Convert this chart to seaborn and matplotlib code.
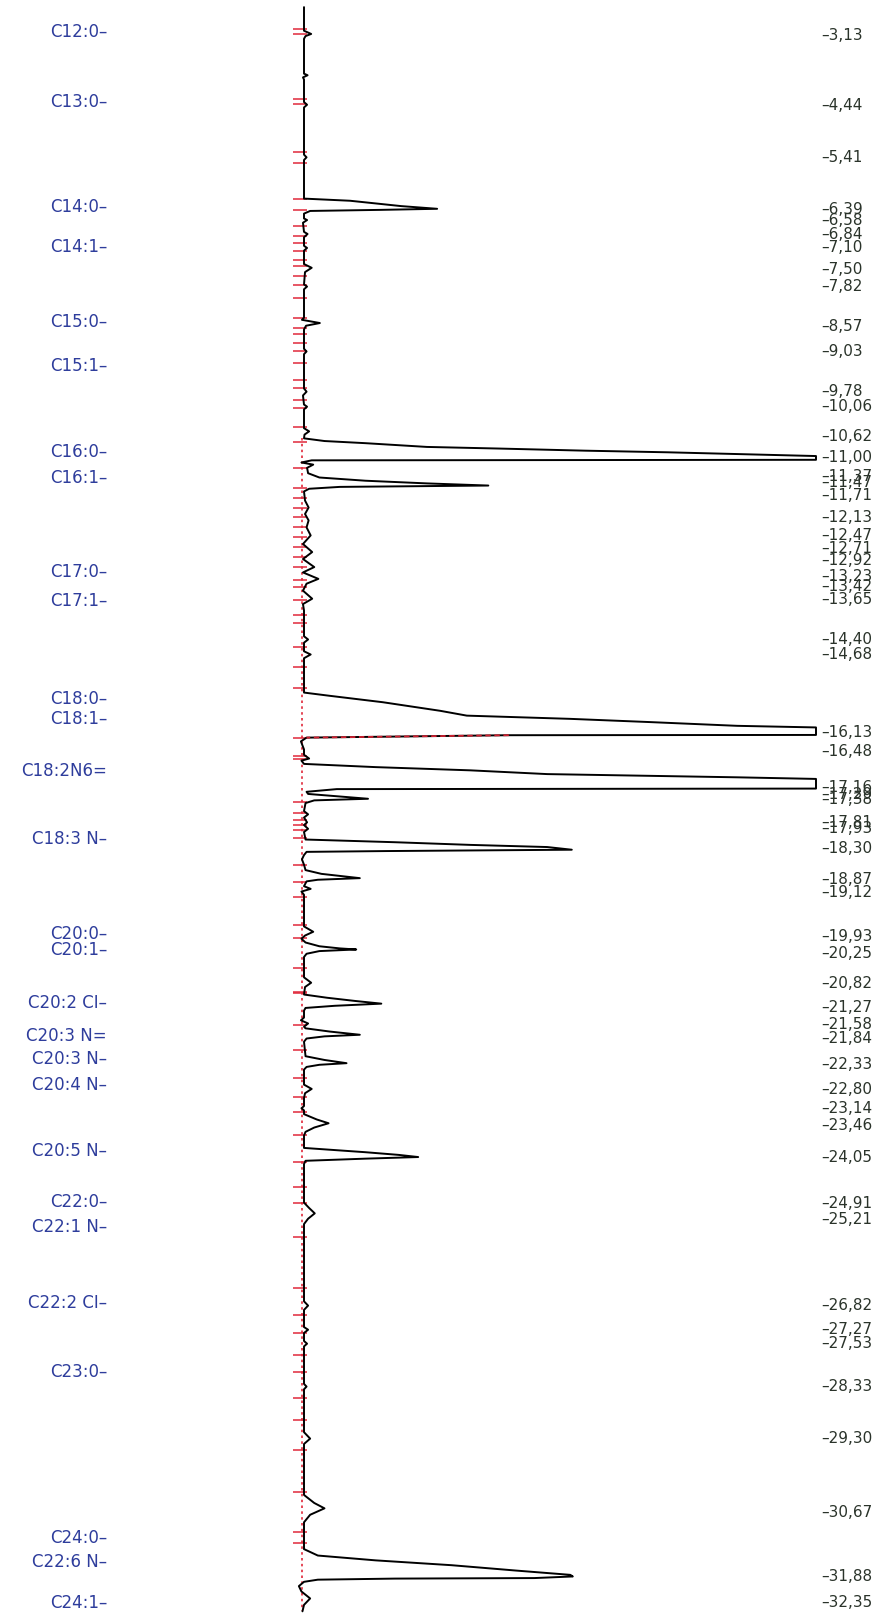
import matplotlib
matplotlib.use("Agg")
import matplotlib.pyplot as plt
import matplotlib.transforms as mtransforms
import pandas as pd
import seaborn as sns

# --- GC trace: retention time (min) vs detector response (% of full scale) ---
trace_time = [
    2.61, 3.05, 3.11, 3.15, 3.20, 3.85, 3.88, 3.92, 3.96, 4.38, 4.43, 4.48,
    5.36, 5.41, 5.46,
    6.18, 6.22, 6.32, 6.37, 6.39, 6.41, 6.46,
    6.55, 6.58, 6.63, 6.80, 6.84, 6.90, 7.06, 7.10, 7.15,
    7.40, 7.47, 7.55, 7.78, 7.82, 7.87,
    8.40, 8.44, 8.50, 8.55, 8.62, 8.98, 9.03, 9.08,
    9.72, 9.78, 9.85, 10.02, 10.06, 10.11, 10.46, 10.52, 10.58,
    10.65, 10.70, 10.74, 10.81, 10.84, 10.88, 10.91, 10.95, 10.98, 11.05, 11.06, 11.10,
    11.14, 11.20, 11.30, 11.38, 11.44, 11.49, 11.53, 11.555, 11.59, 11.64,
    11.81, 11.94, 12.06, 12.18, 12.31, 12.46, 12.62, 12.77, 12.90, 13.05,
    13.15, 13.27, 13.36, 13.49, 13.64, 13.74, 13.86,
    14.34, 14.40, 14.46, 14.62, 14.68, 14.75,
    15.39, 15.45, 15.57, 15.73, 15.82, 15.88, 15.94, 16.01, 16.04, 16.18, 16.185, 16.23,
    16.30, 16.45, 16.55, 16.62, 16.66,
    16.72, 16.78, 16.84, 16.91, 16.94, 16.97, 17.00, 17.18, 17.19, 17.24,
    17.28, 17.32, 17.37, 17.40, 17.45, 17.60, 17.66, 17.72, 17.81, 17.86, 17.93, 17.99,
    18.13, 18.18, 18.23, 18.27, 18.32, 18.345, 18.36, 18.42, 18.50, 18.60,
    18.70, 18.77, 18.85, 18.88, 18.91, 19.00, 19.05, 19.10, 19.16,
    19.75, 19.85, 19.92, 19.98,
    20.05, 20.12, 20.16, 20.18, 20.21, 20.26, 20.32, 20.70, 20.80, 20.88,
    21.02, 21.08, 21.14, 21.19, 21.23, 21.27, 21.32, 21.45, 21.50, 21.56, 21.62,
    21.65, 21.71, 21.75, 21.77, 21.80, 21.84, 21.90,
    22.17, 22.24, 22.30, 22.33, 22.37, 22.42, 22.70, 22.78, 22.86, 22.95,
    23.10, 23.14, 23.18, 23.25, 23.35, 23.42, 23.50, 23.58, 23.65,
    23.88, 23.96, 24.01, 24.05, 24.08, 24.12, 24.18,
    24.90, 25.00, 25.10, 25.20, 25.30,
    26.74, 26.82, 26.90, 27.22, 27.27, 27.33, 27.48, 27.53, 27.58,
    28.28, 28.33, 28.38, 29.18, 29.30, 29.40,
    30.35, 30.50, 30.60, 30.72, 30.86,
    31.36, 31.48, 31.57, 31.66, 31.76, 31.84, 31.87, 31.90, 31.91, 31.93, 31.97,
    32.05, 32.15, 32.28, 32.40, 32.52,
]
trace_level = [
    0, 0, 1.4, 0.3, 0, 0, 0.7, -0.2, 0, 0, 0.6, 0,
    0, 0.5, 0,
    0, 9, 19, 26, 15, 1.2, 0,
    0, 0.6, -0.2, 0, 0.7, 0, 0, 0.6, 0,
    0, 1.5, 0.2, 0, 0.6, 0,
    0, -0.4, 3.1, 0.4, 0, 0, 0.5, 0,
    0, 0.5, -0.2, 0, 0.6, 0, 0, 1.0, 0.1,
    0, 4, 12, 24, 38, 55, 71, 88, 100, 100, 1.5, -0.5,
    1.8, 0.6, 0.8, 3, 12, 24, 36, 7, 1, 0,
    0.2, 0.9, 0.2, 0.9, 0.5, 1.3, -0.2, 1.6, -0.2, 2.0,
    -0.2, 2.8, 0.5, -0.2, 1.6, -0.2, 0,
    0, 0.8, 0, 0, 1.3, 0,
    0, 5, 15.4, 26.6, 31.8, 52, 67.5, 84.6, 100, 100, 40, 0.5,
    -0.6, 0, 0, 1.0, -0.5,
    0, 14, 32.5, 47.5, 66, 84.6, 100, 100, 6.4, 0.5,
    0.8, 6, 12.5, 2, 0.3, 0, 0.8, 0, 0.6, 0, 0.8, 0,
    0.3, 17.7, 32.5, 47.5, 52.3, 16, 0.5, 0, -0.4, 0,
    0.3, 3.4, 10.9, 2.7, 0.5, 0, 1.3, -0.5, 0,
    0, 1.8, 0.2, -0.5,
    0.3, 3, 7, 10.2, 3, 0.5, 0, 0, 1.4, 0.2,
    0, 4.5, 10, 15.1, 6, 0.3, 0, 0, -0.6, 0.8, 0,
    0.3, 5, 9, 10.9, 4, 0.5, 0,
    0.3, 4, 8.3, 3, 0.5, 0, 0, 1.5, 0.2, 0,
    0, -0.5, 0, 0, 2.5, 4.8, 2, 0.3, 0,
    0, 12, 18.5, 22.3, 12, 0.3, 0,
    0, 1.0, 2.1, 0.8, 0,
    0, 0.8, 0, 0, 0.8, 0, 0, 0.6, 0,
    0, 0.5, 0, 0, 1.2, 0,
    0, 2, 4.0, 1.2, 0,
    0, 2.7, 14, 28.8, 41.4, 52, 52.5, 45, 17.7, 2.7, 0,
    -1.0, -0.5, 1.2, 0, -0.3,
]

# retention times printed on the right
peak_times = [
    3.13, 4.44, 5.41, 6.39, 6.58, 6.84, 7.10, 7.50, 7.82, 8.57, 9.03, 9.78,
    10.06, 10.62, 11.00, 11.37, 11.47, 11.71, 12.13, 12.47, 12.71, 12.92,
    13.23, 13.42, 13.65, 14.40, 14.68, 16.13, 16.48, 17.16, 17.29, 17.38,
    17.81, 17.93, 18.30, 18.87, 19.12, 19.93, 20.25, 20.82, 21.27, 21.58,
    21.84, 22.33, 22.80, 23.14, 23.46, 24.05, 24.91, 25.21, 26.82, 27.27,
    27.53, 28.33, 29.30, 30.67, 31.88, 32.35,
]

# fatty acid names on the left and where they sit on the time axis
compound_names = [
    "C12:0–", "C13:0–", "C14:0–", "C14:1–", "C15:0–", "C15:1–", "C16:0–",
    "C16:1–", "C17:0–", "C17:1–", "C18:0–", "C18:1–", "C18:2N6=", "C18:3 N–",
    "C20:0–", "C20:1–", "C20:2 CI–", "C20:3 N=", "C20:3 N–", "C20:4 N–",
    "C20:5 N–", "C22:0–", "C22:1 N–", "C22:2 CI–", "C23:0–", "C24:0–",
    "C22:6 N–", "C24:1–",
]
compound_times = [
    3.07, 4.38, 6.33, 7.08, 8.49, 9.31, 10.90, 11.38, 13.15, 13.69, 15.51,
    15.89, 16.85, 18.12, 19.89, 20.19, 21.17, 21.79, 22.22, 22.70, 23.93,
    24.88, 25.35, 26.78, 28.05, 31.16, 31.60, 32.37,
]

# red integration marks along the baseline
mark_times = [
    3.02, 3.11, 4.33, 4.42, 5.31, 5.51, 6.19, 6.39, 6.70, 6.87, 7.01, 7.16,
    7.32, 7.44, 7.63, 7.80, 8.03, 8.40, 8.59, 8.71, 8.87, 9.02, 9.24, 9.56,
    9.71, 9.93, 10.09, 10.44, 10.72, 11.20, 11.58, 11.76, 11.95, 12.12,
    12.30, 12.49, 12.68, 12.86, 13.05, 13.29, 13.42, 13.66, 13.94, 14.09,
    14.54, 14.91, 15.31, 16.24, 16.58, 16.63, 17.43, 17.64, 17.77, 17.86,
    17.95, 18.10, 18.61, 18.92, 19.20, 19.73, 19.97, 20.53, 20.97, 20.99,
    21.59, 22.06, 22.58, 22.93, 23.21, 23.64, 24.14, 24.61, 24.91, 25.54,
    26.49, 27.00, 27.33, 27.74, 28.06, 28.54, 28.96, 29.51, 30.30, 31.04,
    31.25,
]

# red dashed drop line on the C18:1 tail and the red dotted baseline
drop_time = [16.185, 16.23]
drop_level = [40, 0.5]
dotted_start, dotted_end = 10.65, 32.52

sns.set_theme(style="white")
plt.rcParams['font.family'] = ['DejaVu Sans']

fig = plt.figure(figsize=(8.8, 16.14), dpi=100)
ax = fig.add_axes([0, 0, 1, 1])

df = pd.DataFrame({'time': trace_time, 'level': trace_level})

ax.vlines(-0.3, dotted_start, dotted_end, colors='#e0283a',
          linestyles=(0, (1.5, 2.0)), lw=1.2, zorder=1)
ax.hlines(mark_times, -2.2, 0.5, colors='#e0283a', lw=1.1, zorder=2)

sns.lineplot(data=df, x='level', y='time', sort=False, estimator=None,
             color='black', lw=1.4, ax=ax, zorder=3)
ax.plot(drop_level, drop_time, color='#d02030', lw=1.3, ls=(0, (3, 2)), zorder=4)

# 1 unit = 5.12 px, baseline at 304 px from the left edge
ax.set_xlim(-59.375, 112.5)
ax.set_ylim(32.57, 2.477)
ax.axis('off')

blend = mtransforms.blended_transform_factory(ax.transAxes, ax.transData)
for name, t in zip(compound_names, compound_times):
    ax.text(107 / 880, t, name, transform=blend, ha='right', va='center',
            color='#2e3d9c', fontsize=12)

for t in peak_times:
    label = "–" + f"{t:.2f}".replace(".", ",")
    ax.text(821 / 880, t, label, transform=blend, ha='left', va='center',
            color='#2a332a', fontsize=11)

fig.savefig("out.png", dpi=100, facecolor='white')
